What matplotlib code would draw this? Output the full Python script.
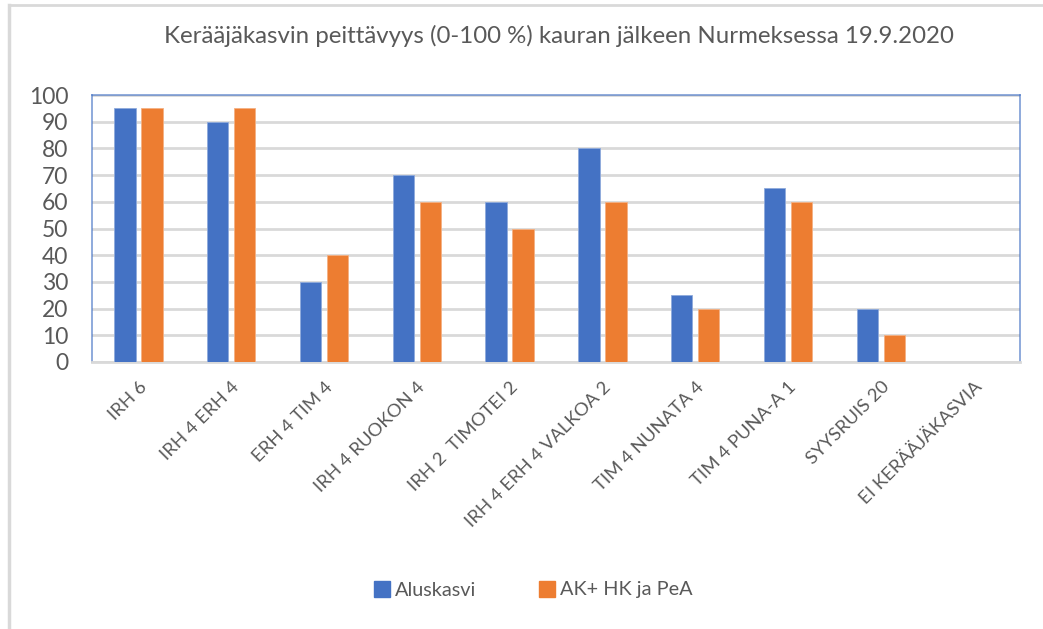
import numpy as np
import matplotlib.pyplot as plt
from matplotlib.lines import Line2D

# data
categories = ["IRH 6", "IRH 4 ERH 4", "ERH 4 TIM 4", "IRH 4 RUOKON 4", "IRH 2  TIMOTEI 2",
              "IRH 4 ERH 4 VALKOA 2", "TIM 4 NUNATA 4", "TIM 4 PUNA-A 1", "SYYSRUIS 20",
              "EI KERÄÄJÄKASVIA"]
aluskasvi = [95, 90, 30, 70, 60, 80, 25, 65, 20, 0]
ak_hk_pea = [95, 95, 40, 60, 50, 60, 20, 60, 10, 0]
series_names = ["Aluskasvi", "AK+ HK ja PeA"]
yticks = list(range(0, 101, 10))

blue = "#4472C4"
orange = "#ED7D31"
grey_text = "#595959"

plt.rcParams['font.family'] = ['Lato', 'DejaVu Sans']

W, H = 1043, 629
fig = plt.figure(figsize=(W / 100, H / 100), dpi=100)
ax = fig.add_axes([92 / W, 1 - 362 / H, (1020 - 92) / W, (362 - 95) / H])

x = np.arange(len(categories))
w = 0.23
ax.bar(x - 0.145, aluskasvi, w, color=blue, edgecolor="#8FAADC", linewidth=0.6, zorder=3)
ax.bar(x + 0.145, ak_hk_pea, w, color=orange, edgecolor="#F4B183", linewidth=0.6, zorder=3)

ax.set_xlim(-0.5, len(categories) - 0.5)
ax.set_ylim(0, 100)
ax.set_yticks(yticks)
ax.set_yticklabels([str(v) for v in yticks], fontsize=16.5, color=grey_text)
ax.yaxis.grid(True, color="#D9D9D9", linewidth=2, zorder=0)
ax.tick_params(axis="y", length=0, pad=17)
ax.tick_params(axis="x", length=0, pad=12)

ax.set_xticks(x)
ax.set_xticklabels(categories, rotation=45, ha="right", rotation_mode="anchor",
                   fontsize=13.3, color=grey_text)

for side in ["top", "left", "right"]:
    ax.spines[side].set_color(blue)
    ax.spines[side].set_linewidth(1.2)
    ax.spines[side].set_alpha(0.7)
ax.spines["bottom"].set_color("#D9D9D9")
ax.spines["bottom"].set_linewidth(2)

fig.text(559 / W, 1 - 36 / H, "Kerääjäkasvin peittävyys (0-100 %) kauran jälkeen Nurmeksessa 19.9.2020",
         ha="center", va="center", fontsize=17.3, color=grey_text)

handles = [Line2D([], [], marker="s", linestyle="none", markersize=11, color=c)
           for c in [blue, orange]]
fig.legend(handles, series_names, loc="center", bbox_to_anchor=(534 / W, 1 - 590 / H),
           ncol=2, frameon=False, fontsize=14.3, handlelength=0.7, handletextpad=0.3,
           columnspacing=3.2, labelcolor=grey_text)

# outer chart frame lines (top and left)
fig.add_artist(Line2D([9 / W, 1], [1 - 5 / H, 1 - 5 / H], color="#D9D9D9", linewidth=2))
fig.add_artist(Line2D([9 / W, 9 / W], [0, 1 - 5 / H], color="#D9D9D9", linewidth=2.5))

fig.savefig("out.png", dpi=100)
